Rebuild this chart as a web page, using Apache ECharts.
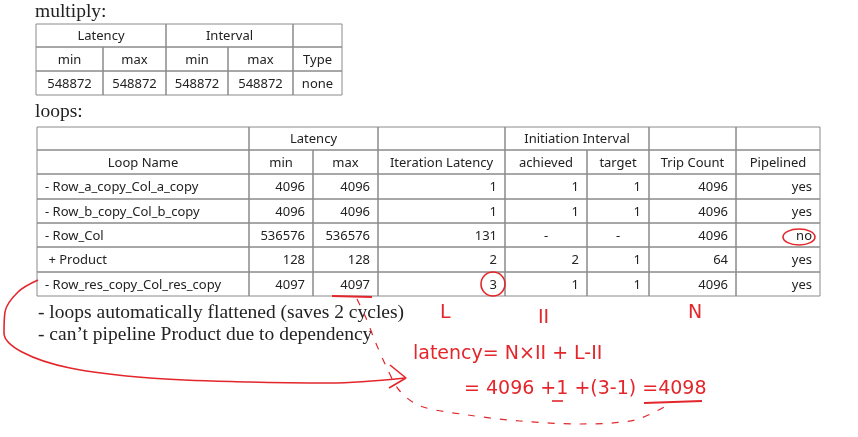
<!DOCTYPE html>
<html>
<head>
<meta charset="utf-8">
<title>multiply / loops</title>
<script src="https://cdn.jsdelivr.net/npm/echarts@6/dist/echarts.min.js"></script>
<style>
  html, body { margin: 0; padding: 0; background: #fff; }
  #main { width: 858px; height: 437px; }
</style>
</head>
<body>
<div id="main"></div>
<script>
// multiply 表
var mulGroups = ['Latency', 'Interval', ''];
var mulCols = ['min', 'max', 'min', 'max', 'Type'];
var mulValues = ['548872', '548872', '548872', '548872', 'none'];

// loops 表
var loopGroups = ['', 'Latency', '', 'Initiation Interval', '', ''];
var loopCols = ['Loop Name', 'min', 'max', 'Iteration Latency', 'achieved', 'target', 'Trip Count', 'Pipelined'];
var loopNames = ['- Row_a_copy_Col_a_copy', '- Row_b_copy_Col_b_copy', '- Row_Col', ' + Product', '- Row_res_copy_Col_res_copy'];
var latMin = [4096, 4096, 536576, 128, 4097];
var latMax = [4096, 4096, 536576, 128, 4097];
var iterLatency = [1, 1, 131, 2, 3];
var iiAchieved = ['1', '1', '-', '2', '1'];
var iiTarget = ['1', '1', '-', '1', '1'];
var tripCount = [4096, 4096, 4096, 64, 4096];
var pipelined = ['yes', 'yes', 'no', 'yes', 'yes'];

var notes = ['- loops automatically flattened (saves 2 cycles)', '- can\u2019t pipeline Product due to dependency'];

// 手写批注
var markLetters = ['L', 'II', 'N'];
var formula = ['latency= N\u00d7II + L-II', '= 4096 +1 +(3-1) =4098'];

// 版面 (像素)
var mulX = [36, 103, 166, 228, 293, 342];
var mulY = [24, 47, 71, 95];
var loopX = [37, 249, 313, 378, 505, 587, 649, 736, 820];
var loopY = [127, 150, 174, 199, 223, 247, 272, 296];
var groupSpan = [[0, 2], [2, 4], [4, 5]];
var loopSpan = [[0, 1], [1, 3], [3, 4], [4, 6], [6, 7], [7, 8]];

var RED = '#e3262b';
var GRID = '#8a8a8a';
var TEXT = '#222';
var tableFont = '13px "Noto Sans"';
var serifFont = '19.5px "Liberation Serif"';
var handFont = '19px "DejaVu Sans"';

// 拼单元格: [x0, x1, y0, y1, text, align]
var cells = [];
function addCell(xs, ys, c0, c1, r, text, align) {
    cells.push([xs[c0], xs[c1], ys[r], ys[r + 1], String(text), align]);
}
groupSpan.forEach(function (s, i) {
    addCell(mulX, mulY, s[0], s[1], 0, mulGroups[i], 'center');
});
mulCols.forEach(function (t, i) {
    addCell(mulX, mulY, i, i + 1, 1, t, 'center');
});
mulValues.forEach(function (t, i) {
    addCell(mulX, mulY, i, i + 1, 2, t, 'center');
});
loopSpan.forEach(function (s, i) {
    addCell(loopX, loopY, s[0], s[1], 0, loopGroups[i], 'center');
});
loopCols.forEach(function (t, i) {
    addCell(loopX, loopY, i, i + 1, 1, t, 'center');
});
loopNames.forEach(function (name, r) {
    var row = [name, latMin[r], latMax[r], iterLatency[r], iiAchieved[r], iiTarget[r], tripCount[r], pipelined[r]];
    row.forEach(function (v, c) {
        var align = c == 0 ? 'left' : (v === '-' ? 'center' : 'right');
        addCell(loopX, loopY, c, c + 1, r + 2, v, align);
    });
});

// 红色曲线
var bigArrow = [[38, 280], [18, 292], [5, 312], [4, 333], [22, 352], [70, 368], [150, 378], [250, 382], [330, 383], [405, 378]];
var arrowHead = [[390, 365], [406, 378], [389, 388]];
var dashPath = [[357, 299], [366, 318], [375, 341], [386, 366], [399, 390], [420, 406], [468, 415], [520, 421], [580, 424], [635, 420], [668, 405]];
var underline4097 = [[332, 296], [372, 297]];
var underline4098 = [[644, 403], [702, 401]];
var underlineOne = [[552, 401], [563, 401]];

var myChart = echarts.init(document.getElementById('main'));

function redLine(name, data, dashed, width) {
    return {
        name: name,
        type: 'line',
        data: data,
        smooth: dashed ? 0.3 : (data.length > 3 ? 0.35 : false),
        symbol: 'none',
        silent: true,
        animation: false,
        lineStyle: {color: RED, width: width || 1.6, type: dashed ? [7, 9] : 'solid'}
    };
}

option = {
    animation: false,
    backgroundColor: '#fff',
    grid: {left: 0, right: 0, top: 0, bottom: 0},
    xAxis: {type: 'value', min: 0, max: 858, show: false},
    yAxis: {type: 'value', min: 0, max: 437, inverse: true, show: false},
    series: [
        {
            type: 'custom',
            data: cells,
            silent: true,
            renderItem: function (params, api) {
                var c = cells[params.dataIndex];
                var p0 = api.coord([c[0], c[2]]);
                var p1 = api.coord([c[1], c[3]]);
                var tx = c[5] == 'left' ? p0[0] + 8 : (c[5] == 'right' ? p1[0] - 8 : (p0[0] + p1[0]) / 2);
                return {
                    type: 'group',
                    children: [
                        {
                            type: 'rect',
                            shape: {x: p0[0], y: p0[1], width: p1[0] - p0[0], height: p1[1] - p0[1]},
                            style: {fill: 'none', stroke: GRID, lineWidth: 1}
                        },
                        {
                            type: 'text',
                            style: {
                                x: tx, y: (p0[1] + p1[1]) / 2 + 1,
                                text: c[4], fill: TEXT, font: tableFont,
                                align: c[5], verticalAlign: 'middle'
                            }
                        }
                    ]
                };
            }
        },
        {
            // 标题和说明文字
            type: 'custom',
            data: [[35, 12, 'multiply:'], [35, 112, 'loops:'], [38, 313, notes[0]], [38, 335, notes[1]]],
            silent: true,
            renderItem: function (params, api) {
                var p = api.coord([api.value(0), api.value(1)]);
                return {
                    type: 'text',
                    style: {x: p[0], y: p[1], text: api.value(2), fill: TEXT, font: serifFont, verticalAlign: 'middle'}
                };
            }
        },
        {
            // 手写批注
            type: 'custom',
            data: [[440, 313, markLetters[0]], [538, 318, markLetters[1]], [688, 313, markLetters[2]],
                [413, 354, formula[0]], [464, 389, formula[1]]],
            silent: true,
            renderItem: function (params, api) {
                var p = api.coord([api.value(0), api.value(1)]);
                return {
                    type: 'text',
                    style: {x: p[0], y: p[1], text: api.value(2), fill: RED, font: handFont, verticalAlign: 'middle'}
                };
            }
        },
        {
            // 红圈
            type: 'custom',
            data: [[493, 284, 12, 12], [799, 237, 16, 8]],
            silent: true,
            renderItem: function (params, api) {
                var p = api.coord([api.value(0), api.value(1)]);
                return {
                    type: 'ellipse',
                    shape: {cx: p[0], cy: p[1], rx: api.value(2), ry: api.value(3)},
                    style: {fill: 'none', stroke: RED, lineWidth: 1.6}
                };
            }
        },
        redLine('arrow', bigArrow, false),
        redLine('head', arrowHead, false),
        redLine('dash', dashPath, true, 1.2),
        redLine('u4097', underline4097, false, 2.2),
        redLine('u4098', underline4098, false, 2),
        redLine('u1', underlineOne, false, 1.6)
    ]
};

myChart.setOption(option);
</script>
</body>
</html>
